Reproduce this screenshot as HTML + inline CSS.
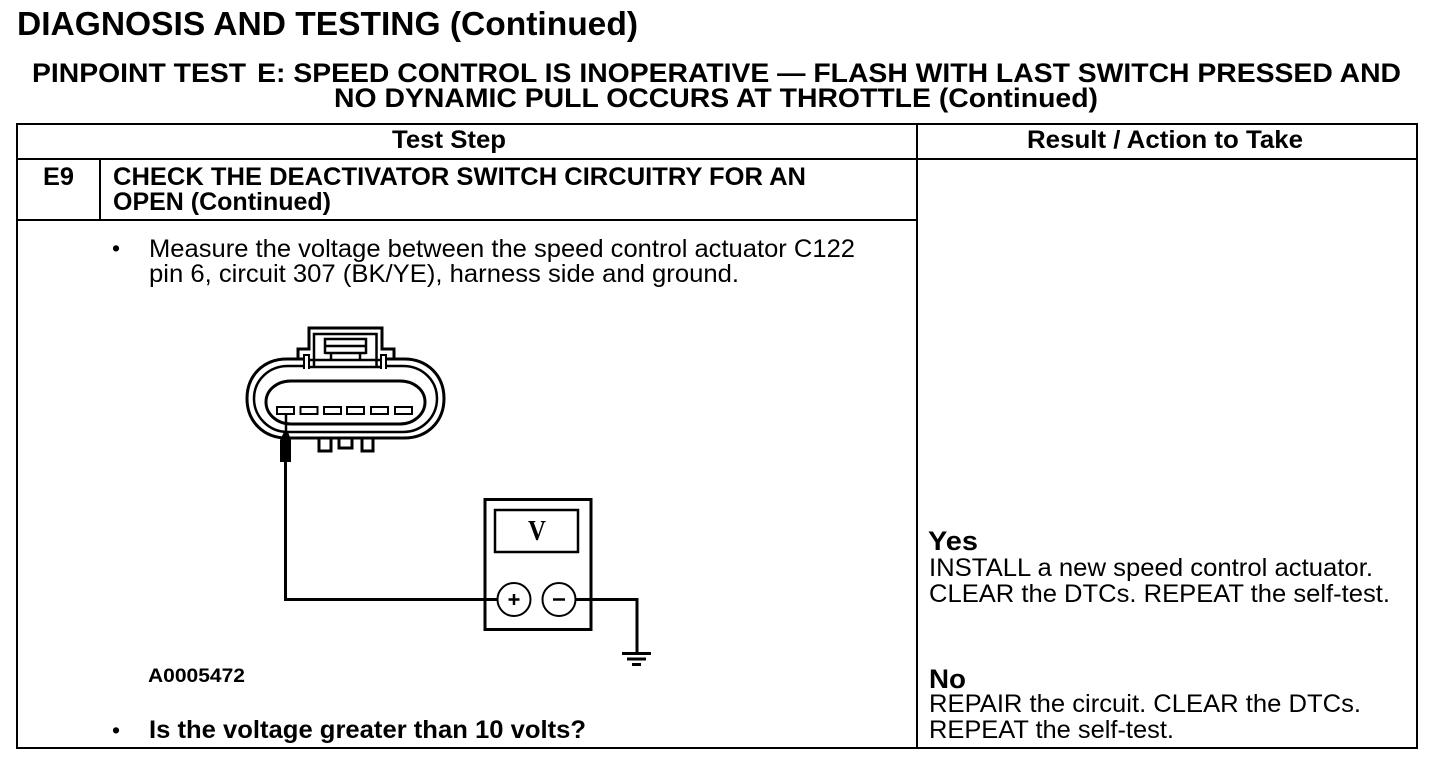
<!DOCTYPE html>
<html><head><meta charset="utf-8"><style>
html,body{margin:0;padding:0;background:#fff;width:1456px;height:760px;overflow:hidden}
svg{display:block}
text{font-family:"Liberation Sans",sans-serif;fill:#000}
.b{font-weight:bold}
</style></head><body>
<svg width="1456" height="760" viewBox="0 0 1456 760" xmlns="http://www.w3.org/2000/svg">
<rect width="1456" height="760" fill="#fff"/>
<text class="b" x="17" y="35" font-size="33.4" textLength="621" lengthAdjust="spacingAndGlyphs">DIAGNOSIS AND TESTING (Continued)</text>
<text class="b" x="32" y="82" font-size="27" textLength="1369" lengthAdjust="spacingAndGlyphs">PINPOINT TEST <tspan dx="3">E:</tspan> SPEED CONTROL IS INOPERATIVE — FLASH WITH LAST SWITCH PRESSED AND</text>
<text class="b" x="334" y="107" font-size="27" textLength="764" lengthAdjust="spacingAndGlyphs">NO DYNAMIC PULL OCCURS AT THROTTLE (Continued)</text>
<g stroke="#000" stroke-width="2" fill="none">
<rect x="17" y="124" width="1400" height="624"/>
<path d="M17 159H1417M917 124V748M17 220H917M100 159V220"/>
</g>
<text class="b" x="392" y="148" font-size="25" textLength="114" lengthAdjust="spacingAndGlyphs">Test Step</text>
<text class="b" x="1027" y="148" font-size="25" textLength="276" lengthAdjust="spacingAndGlyphs">Result / Action to Take</text>
<text class="b" x="43" y="185" font-size="25" textLength="31" lengthAdjust="spacingAndGlyphs">E9</text>
<text class="b" x="113" y="185" font-size="25" textLength="693" lengthAdjust="spacingAndGlyphs">CHECK THE DEACTIVATOR SWITCH CIRCUITRY FOR AN</text>
<text class="b" x="113" y="210" font-size="25" textLength="218" lengthAdjust="spacingAndGlyphs">OPEN (Continued)</text>
<text x="112" y="256" font-size="23">•</text>
<text x="149" y="257" font-size="25" textLength="706" lengthAdjust="spacingAndGlyphs">Measure the voltage between the speed control actuator C122</text>
<text x="149" y="282" font-size="25" textLength="590" lengthAdjust="spacingAndGlyphs">pin 6, circuit 307 (BK/YE), harness side and ground.</text>
<text class="b" x="148" y="682" font-size="19" textLength="97" lengthAdjust="spacingAndGlyphs">A0005472</text>
<text x="112" y="738" font-size="23">•</text>
<text class="b" x="149" y="738" font-size="25" textLength="437" lengthAdjust="spacingAndGlyphs">Is the voltage greater than 10 volts?</text>
<text class="b" x="928" y="550" font-size="27" textLength="50" lengthAdjust="spacingAndGlyphs">Yes</text>
<text x="929" y="576" font-size="25" textLength="444" lengthAdjust="spacingAndGlyphs">INSTALL a new speed control actuator.</text>
<text x="929" y="602" font-size="25" textLength="461" lengthAdjust="spacingAndGlyphs">CLEAR the DTCs. REPEAT the self-test.</text>
<text class="b" x="929" y="688" font-size="27" textLength="37" lengthAdjust="spacingAndGlyphs">No</text>
<text x="929" y="712" font-size="25" textLength="432" lengthAdjust="spacingAndGlyphs">REPAIR the circuit. CLEAR the DTCs.</text>
<text x="929" y="738" font-size="25" textLength="245" lengthAdjust="spacingAndGlyphs">REPEAT the self-test.</text>

<!-- connector -->
<g stroke="#000" fill="none" stroke-width="2.5">
<path d="M304 359H298V349H309V328H382V349H394V359H386" stroke-width="3"/>
<path d="M314 367V334H376.500V367" stroke-width="2.500"/>
<path d="M325 354V339H366V354M325 346H366" stroke-width="2.500"/>
<path d="M325 353H366" stroke-width="2.500"/>
<path d="M331 354V360M360 354V360" stroke-width="2.500"/>
<path d="M304 369V355H309V369M386 369V355H381V369" stroke-width="2"/>
<path d="M309 360H381M309 367H381" stroke-width="2.500"/>
<path d="M304 359H287C263 359 247 376 247 398.500C247 421 263 438 287 438H404C428 438 444 421 444 398.500C444 376 428 359 404 359H386" stroke-width="3"/>
<path d="M304 366H288C269 366 254 380 254 398.500C254 417 269 432 288 432H403C422 432 437 417 437 398.500C437 380 422 366 403 366H386" stroke-width="2.500"/>
<path d="M291 381H400C414 381 425 390 425 402C425 414 414 424 400 424H291C277 424 266 414 266 402C266 390 277 381 291 381Z" stroke-width="3"/>
<path d="M319 439V451H331V439M339 439V448H352V439M362 439V451H373V439" stroke-width="3"/>
<g stroke-width="2">
<rect x="277" y="407" width="17" height="7"/>
<rect x="300.500" y="407" width="17" height="7"/>
<rect x="324" y="407" width="17" height="7"/>
<rect x="347" y="407" width="17" height="7"/>
<rect x="371" y="407" width="17" height="7"/>
<rect x="395" y="407" width="17" height="7"/>
</g>
<path d="M286 414V438" stroke-width="2.500"/>
</g>
<path d="M284 432L288 432L291 440V462H280V440Z" fill="#000"/>
<!-- wires & meter -->
<g stroke="#000" fill="none">
<path d="M285.500 461V599.500H497" stroke-width="3"/>
<rect x="485" y="499.500" width="106" height="130" stroke-width="3"/>
<rect x="495" y="510" width="83" height="42" stroke-width="2.500"/>
<circle cx="514" cy="599.500" r="16.500" fill="#fff" stroke-width="2"/>
<circle cx="559" cy="599.500" r="16.500" fill="#fff" stroke-width="2"/>
<path d="M514 594V605M508.500 599.500H519.500M553 599.500H565" stroke-width="2.500"/>
<path d="M576 599.500H637V653" stroke-width="3"/>
<path d="M622 653.500H651" stroke-width="3"/>
<path d="M627 659H646" stroke-width="3"/>
<path d="M632 664.500H641" stroke-width="3"/>
</g>
<text class="b" x="528" y="540" font-size="29" textLength="18" lengthAdjust="spacingAndGlyphs" style="font-family:'Liberation Serif',serif">V</text>
</svg>
</body></html>
